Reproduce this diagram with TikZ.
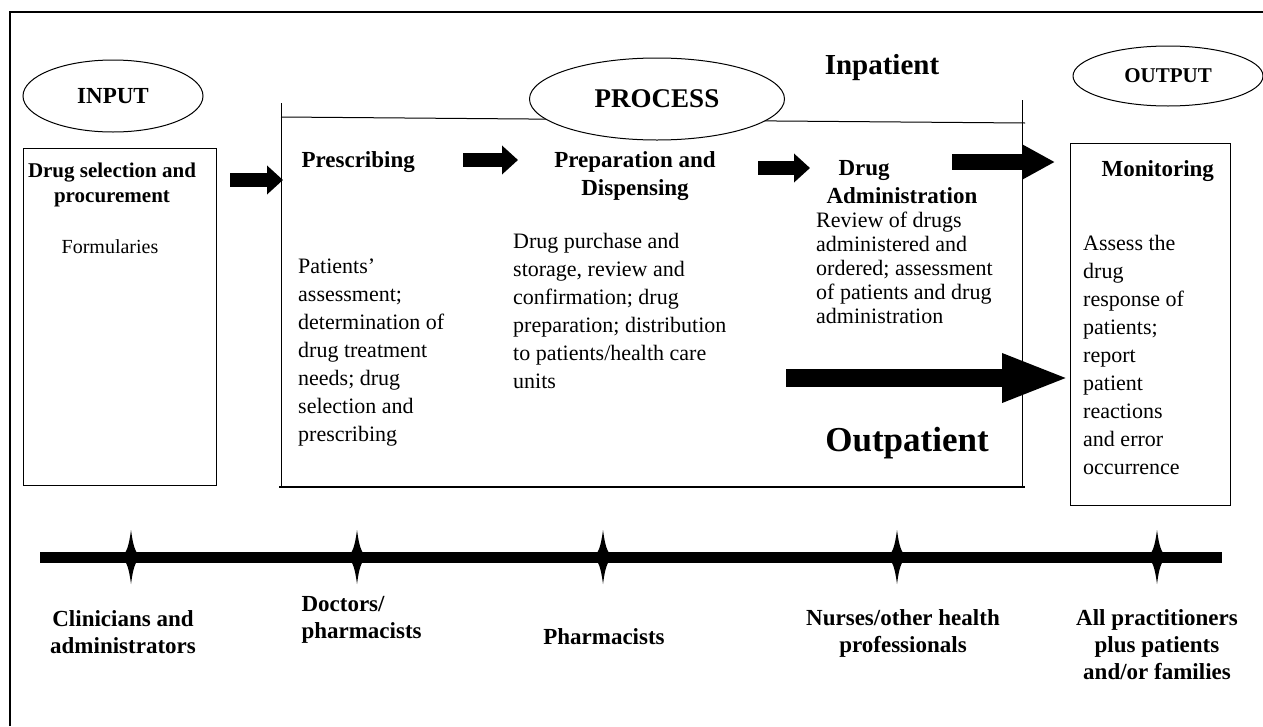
\documentclass[tikz,border=0pt]{standalone}
\usepackage{fontspec}
\setmainfont{Liberation Serif}
\usetikzlibrary{shapes.geometric,arrows.meta}

\tikzset{
  oval/.style={ellipse, draw, line width=1pt, fill=white, inner sep=0pt,
    font=\bfseries\fontsize{23}{27}\selectfont},
  head/.style={font=\bfseries\fontsize{23}{28}\selectfont, align=center},
  body/.style={font=\fontsize{22}{28}\selectfont, align=left,
    anchor=north west, inner sep=0pt},
  who/.style={font=\bfseries\fontsize{23}{27}\selectfont, align=center},
  fat/.style={line width=14pt, -{Triangle[length=16pt,width=28pt]}},
  spark/.pic={
    \fill (0,-27) .. controls (2,-12) and (4,-4) .. (10,0)
      .. controls (4,4) and (2,12) .. (0,27)
      .. controls (-2,12) and (-4,4) .. (-10,0)
      .. controls (-4,-4) and (-2,-12) .. cycle;}
}

\begin{document}
\begin{tikzpicture}[x=1pt,y=-1pt]
  \useasboundingbox (0,0) rectangle (1263,726);
  \draw[line width=1.5pt] (10,726) -- (10,12) -- (1263,12);

  % input side
  \node[oval, minimum width=180pt, minimum height=72pt] (input) at (113,96) {INPUT};
  \node[draw, line width=1pt, minimum width=193pt, minimum height=337pt] (inbox) at (119.5,316.5) {};
  \node[head, font=\bfseries\fontsize{21}{25}\selectfont] (select) at (112,185) {Drug selection and\\procurement};
  \node[font=\fontsize{20}{24}\selectfont] (formul) at (110,247) {Formularies};

  % process frame
  \coordinate (ptl) at (281,117);
  \coordinate (ptr) at (1025,123);
  \draw[line width=1pt] (281,103) -- (281,487);
  \draw[line width=1pt] (ptl) -- (ptr);
  \draw[line width=1pt] (1022,100) -- (1022,487);
  \draw[line width=2.5pt] (279,487) -- (1025,487);
  \node[oval, font=\bfseries\fontsize{27}{31}\selectfont,
    minimum width=255pt, minimum height=82pt] (process) at (657,99) {PROCESS};
  \node[font=\bfseries\fontsize{29}{33}\selectfont] (inpat) at (882,68) {Inpatient};

  % stages
  \node[head, anchor=west] (presc) at (298,162) {Prescribing};
  \node[head] (prep) at (635,176) {Preparation and\\Dispensing};
  \node[head, align=left, anchor=west] (admin) at (823,182) {\hspace*{12pt}Drug\\Administration};
  \node[head, anchor=west] (monit) at (1098,171) {Monitoring};

  \node[body] (presctxt) at (298,259) {Patients'\\assessment;\\determination of\\drug treatment\\needs; drug\\selection and\\prescribing};
  \node[body] (preptxt) at (513,233) {Drug purchase and\\storage, review and\\confirmation; drug\\preparation; distribution\\to patients/health care\\units};
  \node[body, font=\fontsize{22}{24}\selectfont] (admintxt) at (816,212) {Review of drugs\\administered and\\ordered; assessment\\of patients and drug\\administration};
  \node[body] (monittxt) at (1083,235) {Assess the\\drug\\response of\\patients;\\report\\patient\\reactions\\and error\\occurrence};

  % output side
  \node[oval, font=\bfseries\fontsize{21}{25}\selectfont,
    minimum width=190pt, minimum height=60pt] (output) at (1168,76) {OUTPUT};
  \node[draw, line width=1pt, minimum width=160pt, minimum height=362pt] (outbox) at (1150,324) {};

  % block arrows
  \coordinate (a1s) at (230,180);  \coordinate (a1e) at (283,180);
  \coordinate (a2s) at (463,160);  \coordinate (a2e) at (518,160);
  \coordinate (a3s) at (758,168);  \coordinate (a3e) at (810,168);
  \coordinate (a4s) at (952,162);  \coordinate (a4e) at (1055,162);
  \coordinate (a5s) at (786,378);  \coordinate (a5e) at (1070,378);
  \draw[fat] (a1s) -- (a1e);
  \draw[fat] (a2s) -- (a2e);
  \draw[fat] (a3s) -- (a3e);
  \draw[fat, line width=16pt, -{Triangle[length=32pt,width=32pt]}] (a4s) -- (a4e);
  \draw[fat, line width=18pt, -{Triangle[length=68pt,width=44pt]}] (a5s) -- (a5e);
  \node[font=\bfseries\fontsize{35}{39}\selectfont] (outpat) at (907,443) {Outpatient};

  % people line
  \coordinate (tl) at (40,557);
  \coordinate (tr) at (1222,557);
  \draw[line width=11pt] (tl) -- (tr);
  \foreach \x in {131,357,603,897,1157}
    \pic at (\x,557) {spark};

  \node[who] (clin) at (123,632) {Clinicians and\\administrators};
  \node[who, align=left, anchor=west] (doc) at (298,620) {Doctors/\\pharmacists};
  \node[who] (pharm) at (604,637) {Pharmacists};
  \node[who] (nurse) at (903,633) {Nurses/other health\\professionals};
  \node[who] (all) at (1157,645) {All practitioners\\plus patients\\and/or families};
\end{tikzpicture}
\end{document}
